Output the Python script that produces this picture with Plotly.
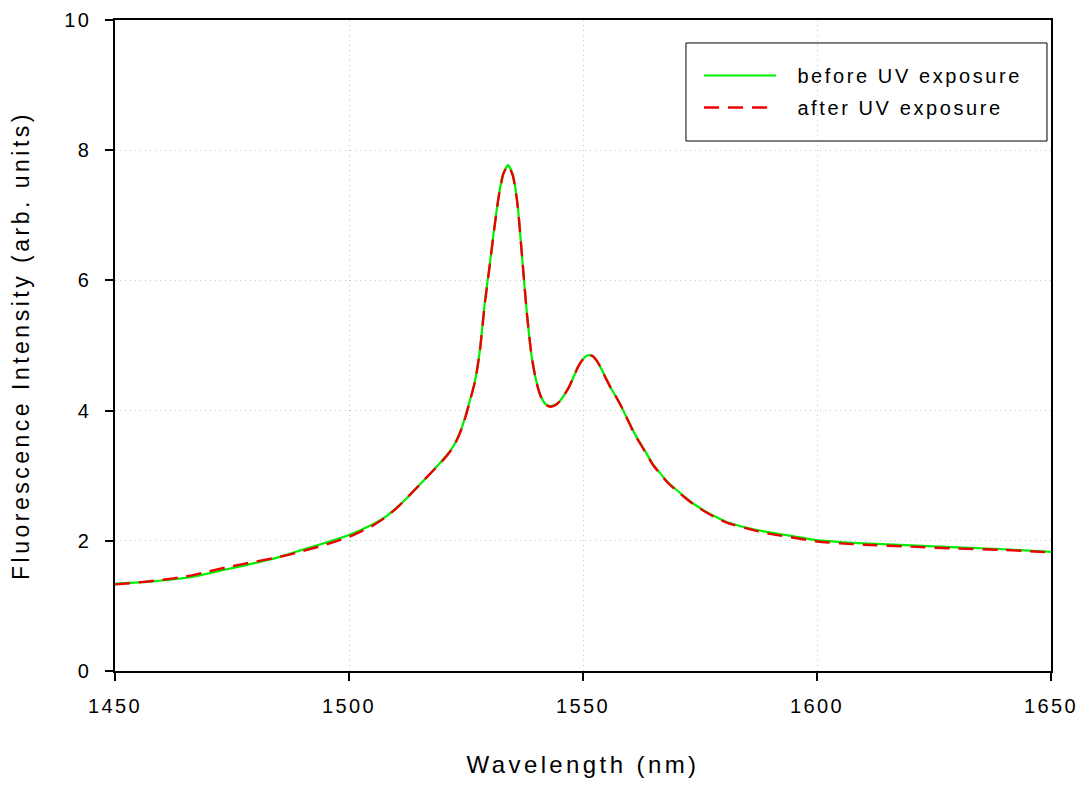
import plotly.graph_objects as go

# Wavelength (nm)
wavelength = [1450, 1455, 1460, 1465, 1470, 1475, 1480, 1485, 1490, 1495,
              1500, 1505, 1508, 1510, 1512, 1514, 1516, 1518, 1520, 1522,
              1523, 1524, 1525, 1526, 1527, 1528, 1529, 1530, 1531, 1532,
              1533, 1534, 1535, 1536, 1537, 1538, 1539, 1540, 1541, 1542,
              1543, 1544, 1545, 1546, 1547, 1548, 1549, 1550, 1551, 1552,
              1553, 1554, 1555, 1556, 1557, 1558, 1559, 1560, 1561, 1562,
              1563, 1564, 1565, 1566, 1568, 1570, 1572, 1574, 1576, 1578,
              1581, 1585, 1589, 1594, 1600, 1605, 1610, 1620, 1630, 1640,
              1650]

before_uv = [1.34, 1.36, 1.39, 1.43, 1.50, 1.58, 1.66, 1.75, 1.86, 1.97,
             2.09, 2.25, 2.38, 2.50, 2.63, 2.78, 2.93, 3.08, 3.24, 3.42,
             3.55, 3.72, 3.94, 4.20, 4.48, 4.95, 5.65, 6.20, 6.78, 7.30,
             7.65, 7.77, 7.62, 7.18, 6.35, 5.50, 4.85, 4.46, 4.22, 4.10,
             4.07, 4.09, 4.14, 4.24, 4.36, 4.52, 4.68, 4.79, 4.85, 4.84,
             4.76, 4.63, 4.48, 4.34, 4.22, 4.09, 3.94, 3.80, 3.65, 3.53,
             3.41, 3.29, 3.17, 3.08, 2.91, 2.78, 2.66, 2.55, 2.46, 2.38,
             2.28, 2.20, 2.14, 2.08, 2.01, 1.98, 1.96, 1.93, 1.90, 1.87,
             1.83]

after_uv = [1.33, 1.36, 1.40, 1.45, 1.53, 1.61, 1.68, 1.75, 1.84, 1.94,
            2.06, 2.23, 2.37, 2.49, 2.63, 2.78, 2.93, 3.08, 3.23, 3.41,
            3.54, 3.71, 3.93, 4.19, 4.47, 4.94, 5.63, 6.19, 6.77, 7.29,
            7.64, 7.76, 7.61, 7.17, 6.35, 5.50, 4.85, 4.45, 4.21, 4.09,
            4.06, 4.08, 4.14, 4.24, 4.36, 4.52, 4.68, 4.79, 4.85, 4.84,
            4.76, 4.63, 4.48, 4.34, 4.22, 4.09, 3.94, 3.79, 3.64, 3.52,
            3.40, 3.28, 3.16, 3.07, 2.90, 2.77, 2.65, 2.54, 2.45, 2.37,
            2.27, 2.19, 2.12, 2.06, 1.99, 1.96, 1.94, 1.91, 1.88, 1.86,
            1.82]

x_ticks = [1450, 1500, 1550, 1600, 1650]
y_ticks = [0, 2, 4, 6, 8, 10]
series_names = ["before UV exposure", "after UV exposure"]
x_title = "Wavelength (nm)"
y_title = "Fluorescence Intensity (arb. units)"

FONT = "Liberation Sans, Arial, sans-serif"


def spaced(text, px):
    return '<span style="letter-spacing:%spx">%s</span>' % (px, text)


LEAD = "\u00a0\u00a0"

fig = go.Figure()
fig.add_trace(go.Scatter(
    x=wavelength, y=before_uv, mode="lines", name=spaced(LEAD + series_names[0], 2.6),
    legendgroup="before",
    line=dict(color="#00ee00", width=2.2, shape="spline", smoothing=0.6),
))
fig.add_trace(go.Scatter(
    x=wavelength, y=after_uv, mode="lines", name=spaced(LEAD + series_names[1], 2.6),
    legendgroup="after",
    line=dict(color="#ee0000", width=2.4, dash="15px,9px", shape="spline", smoothing=0.6),
))

axis_common = dict(
    showline=True, linecolor="black", linewidth=1.6, mirror=True,
    ticks="outside", ticklen=8, tickwidth=1.6, tickcolor="black",
    showgrid=True, gridcolor="#c4c4c4", gridwidth=1, griddash="1px,4px",
    zeroline=False, automargin=False, ticklabeloverflow="allow",
    tickfont=dict(family=FONT, size=20, color="black"),
)

fig.update_xaxes(
    range=[1450, 1650], tickvals=x_ticks,
    ticktext=[spaced(str(v), 2.4) for v in x_ticks], ticklabelstandoff=8,
    title=dict(text=spaced(x_title, 3.4), font=dict(family=FONT, size=24, color="black"), standoff=40),
    **axis_common,
)
fig.update_yaxes(
    range=[0, 10], tickvals=y_ticks,
    ticktext=[spaced(str(v), 2.4) for v in y_ticks], ticklabelstandoff=10,
    title=dict(text=spaced(y_title, 3.5), font=dict(family=FONT, size=23, color="black"), standoff=36),
    **axis_common,
)

# legend frame (decoration only)
fig.add_shape(
    type="rect", xref="paper", yref="paper",
    x0=0.610, x1=0.9957, y0=0.8141, y1=0.9647,
    line=dict(color="black", width=1), fillcolor="rgba(0,0,0,0)", layer="above",
)

fig.update_layout(
    width=1081, height=779,
    margin=dict(l=107, r=38, t=12, b=116),
    plot_bgcolor="white", paper_bgcolor="white",
    font=dict(family=FONT, color="black"),
    legend=dict(
        x=0.624, y=0.9447, xanchor="left", yanchor="top",
        borderwidth=0, bgcolor="rgba(0,0,0,0)",
        font=dict(family=FONT, size=20, color="black"),
        itemwidth=72, traceorder="grouped", tracegroupgap=3,
    ),
)

fig.write_html("out.html")
